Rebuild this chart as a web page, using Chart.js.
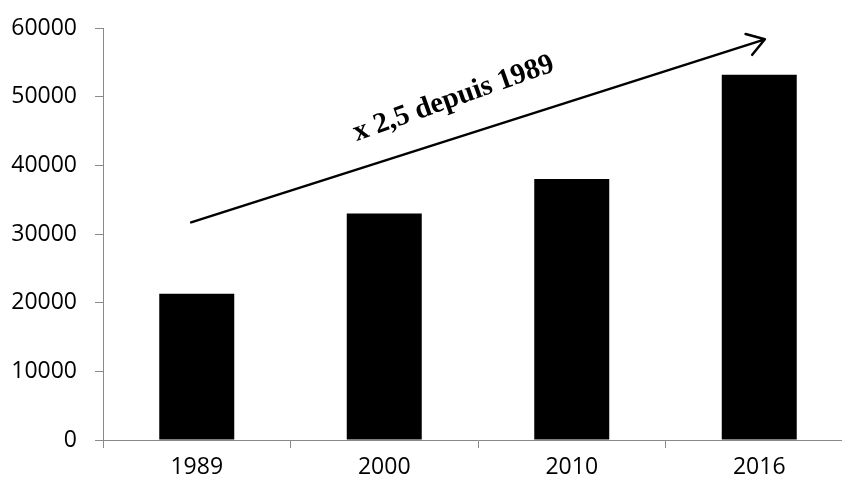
<!DOCTYPE html>
<html>
<head>
<meta charset="utf-8">
<script src="https://cdn.jsdelivr.net/npm/chart.js@4/dist/chart.umd.min.js"></script>
<style>
  html, body { margin: 0; padding: 0; background: #fff; overflow: hidden; }
  #wrap { position: relative; width: 860px; height: 483px; }
</style>
</head>
<body>
<div id="wrap"><canvas id="chart"></canvas></div>
<script>
// Years and their values
const years = ['1989', '2000', '2010', '2016'];
const values = [21300, 33000, 38000, 53200];
const yTicks = [0, 10000, 20000, 30000, 40000, 50000, 60000];
const growthLabel = 'x 2,5 depuis 1989';

// Growth arrow and its caption, placed in scale units (category index, value)
const arrowLayout = {
  from: { x: -0.03, y: 31700 },
  to: { x: 3.03, y: 58350 },
  caption: { x: 1.37, y: 49700, angle: -19.5 }
};

const axisGray = '#898989';
const tickFont = { family: '"Open Sans", sans-serif', size: 23 };

const growthArrow = {
  id: 'growthArrow',
  afterDraw(chart) {
    const { ctx, scales: { x, y } } = chart;
    const x0 = x.getPixelForValue(arrowLayout.from.x);
    const y0 = y.getPixelForValue(arrowLayout.from.y);
    const x1 = x.getPixelForValue(arrowLayout.to.x);
    const y1 = y.getPixelForValue(arrowLayout.to.y);
    const ang = Math.atan2(y1 - y0, x1 - x0);
    const head = 20, spread = Math.PI * 33 / 180;

    ctx.save();
    ctx.strokeStyle = '#000';
    ctx.lineWidth = 2.5;
    ctx.lineCap = 'round';
    ctx.lineJoin = 'round';
    ctx.beginPath();
    ctx.moveTo(x0, y0);
    ctx.lineTo(x1, y1);
    ctx.moveTo(x1 - head * Math.cos(ang - spread), y1 - head * Math.sin(ang - spread));
    ctx.lineTo(x1, y1);
    ctx.lineTo(x1 - head * Math.cos(ang + spread), y1 - head * Math.sin(ang + spread));
    ctx.stroke();

    const cx = x.getPixelForValue(arrowLayout.caption.x);
    const cy = y.getPixelForValue(arrowLayout.caption.y);
    ctx.translate(cx, cy);
    ctx.rotate(arrowLayout.caption.angle * Math.PI / 180);
    ctx.fillStyle = '#000';
    ctx.font = 'bold 29px "Liberation Serif", serif';
    ctx.textAlign = 'center';
    ctx.textBaseline = 'middle';
    ctx.fillText(growthLabel, 0, 0);
    ctx.restore();
  }
};

new Chart(document.getElementById('chart'), {
  type: 'bar',
  data: {
    labels: years,
    datasets: [{
      data: values,
      backgroundColor: '#000',
      borderWidth: 0,
      barPercentage: 0.4,
      categoryPercentage: 1
    }]
  },
  options: {
    responsive: true,
    maintainAspectRatio: false,
    animation: false,
    devicePixelRatio: 1,
    layout: { padding: { top: 28, right: 7, left: 0, bottom: 0 } },
    plugins: { legend: { display: false }, tooltip: { enabled: false } },
    scales: {
      x: {
        grid: { drawOnChartArea: false, drawTicks: true, tickLength: 8, color: axisGray, offset: true },
        border: { color: axisGray, width: 1 },
        ticks: { color: '#000', font: tickFont, padding: 6, maxRotation: 0 },
        afterFit(scale) { scale.height = 43; }
      },
      y: {
        min: 0,
        max: 60000,
        afterBuildTicks(scale) { scale.ticks = yTicks.map(v => ({ value: v })); },
        grid: { drawOnChartArea: false, drawTicks: true, tickLength: 8, color: axisGray },
        border: { color: axisGray, width: 1 },
        ticks: { color: '#000', font: tickFont, padding: 18, callback: v => String(v) },
        afterFit(scale) {
          scale.width = 103;
          // the wide label gap should not push the plot top down
          scale.paddingTop = 0;
          scale.paddingBottom = 0;
        }
      }
    }
  },
  plugins: [growthArrow]
});
</script>
</body>
</html>
